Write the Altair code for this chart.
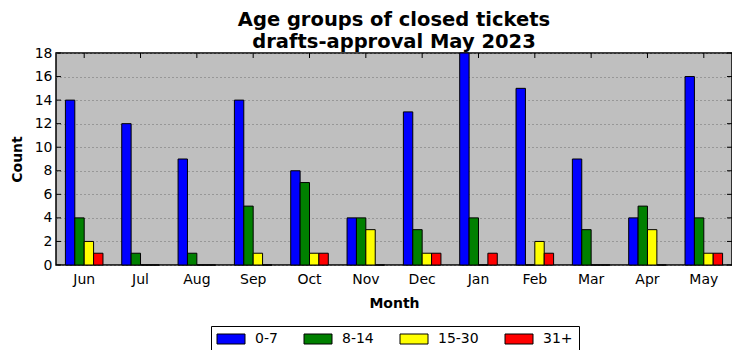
import altair as alt
import pandas as pd

months = ["Jun", "Jul", "Aug", "Sep", "Oct", "Nov", "Dec", "Jan", "Feb", "Mar", "Apr", "May"]
groups = ["0-7", "8-14", "15-30", "31+"]
age_0_7 = [14, 12, 9, 14, 8, 4, 13, 18, 15, 9, 4, 16]
age_8_14 = [4, 1, 1, 5, 7, 4, 3, 4, 0, 3, 5, 4]
age_15_30 = [2, 0, 0, 1, 1, 3, 1, 0, 2, 0, 3, 1]
age_31_plus = [1, 0, 0, 0, 1, 0, 1, 1, 1, 0, 0, 1]
colors = ["#0000ff", "#008000", "#ffff00", "#ff0000"]
y_ticks = [0, 2, 4, 6, 8, 10, 12, 14, 16, 18]

series = [age_0_7, age_8_14, age_15_30, age_31_plus]
rows = []
for g, vals in zip(groups, series):
    for m, v in zip(months, vals):
        rows.append({"Month": m, "Group": g, "Count": v})
df = pd.DataFrame(rows)
df_months = pd.DataFrame({"Month": months})
df_yt = pd.DataFrame({"v": y_ticks})

FONT = "DejaVu Sans"
W, H = 676, 212

x_scale = alt.Scale(paddingInner=0.333, paddingOuter=0.167)
x_axis = alt.Axis(title="Month", labelAngle=0, labelFontSize=14, labelFont=FONT,
                  labelColor="black", labelPadding=7, ticks=False, domain=False,
                  titleFontSize=14, titleFont=FONT, titleFontWeight="bold",
                  titleColor="black", titlePadding=10)
y_scale = alt.Scale(domain=[0, 18], nice=False)
y_axis = alt.Axis(values=y_ticks, title="Count", labelFontSize=14, labelFont=FONT,
                  labelColor="black", labelPadding=4, ticks=False, domain=False,
                  labelOverlap=False,
                  grid=True, gridColor="#6e6e6e", gridDash=[1, 3], gridWidth=1,
                  gridOpacity=1,
                  titleFontSize=14, titleFont=FONT, titleFontWeight="bold",
                  titleColor="black", titlePadding=10)

bars = alt.Chart(df).mark_bar(stroke="black", strokeWidth=1, opacity=1).encode(
    x=alt.X("Month:N", sort=months, scale=x_scale, axis=x_axis),
    xOffset=alt.XOffset("Group:N", sort=groups, scale=alt.Scale(paddingInner=0, paddingOuter=0)),
    y=alt.Y("Count:Q", scale=y_scale, axis=y_axis),
    color=alt.Color("Group:N", sort=groups,
                    scale=alt.Scale(domain=groups, range=colors),
                    legend=alt.Legend(title=None, orient="none", direction="horizontal",
                                      legendX=155, legendY=273,
                                      symbolType="M-2.8,-1L2.8,-1L2.8,1L-2.8,1Z",
                                      symbolSize=100, symbolOffset=7,
                                      symbolStrokeColor="black",
                                      symbolStrokeWidth=1, symbolOpacity=1,
                                      labelFontSize=14, labelFont=FONT, labelColor="black",
                                      labelOffset=17, columnPadding=24, padding=6,
                                      strokeColor="black", fillColor="white")),
)

left_ticks = alt.Chart(df_yt).mark_rule(color="black", strokeWidth=1).encode(
    y=alt.Y("v:Q", title="Count", scale=y_scale, axis=y_axis), x=alt.value(0), x2=alt.value(5))
right_ticks = alt.Chart(df_yt).mark_rule(color="black", strokeWidth=1).encode(
    y=alt.Y("v:Q", title="Count", scale=y_scale, axis=y_axis), x=alt.value(W - 5), x2=alt.value(W))
top_ticks = alt.Chart(df_months).mark_rule(color="black", strokeWidth=1).encode(
    x=alt.X("Month:N", sort=months, bandPosition=0.5, scale=x_scale, axis=x_axis),
    y=alt.value(0), y2=alt.value(5))

chart = alt.layer(bars, left_ticks, right_ticks, top_ticks).properties(
    width=W, height=H,
    background="white",
    title=alt.Title(text=["Age groups of closed tickets", "drafts-approval May 2023"],
                    fontSize=19.5, fontWeight="bold", font=FONT, color="black",
                    anchor="middle", lineHeight=22, offset=-6),
    padding={"left": 48, "top": 45, "right": 0, "bottom": 85},
    autosize=alt.AutoSizeParams(type="none"),
).configure_view(fill="#bfbfbf", stroke="black", strokeWidth=1.5)

chart.save("out.html", embed_options={"renderer": "svg", "actions": False})
